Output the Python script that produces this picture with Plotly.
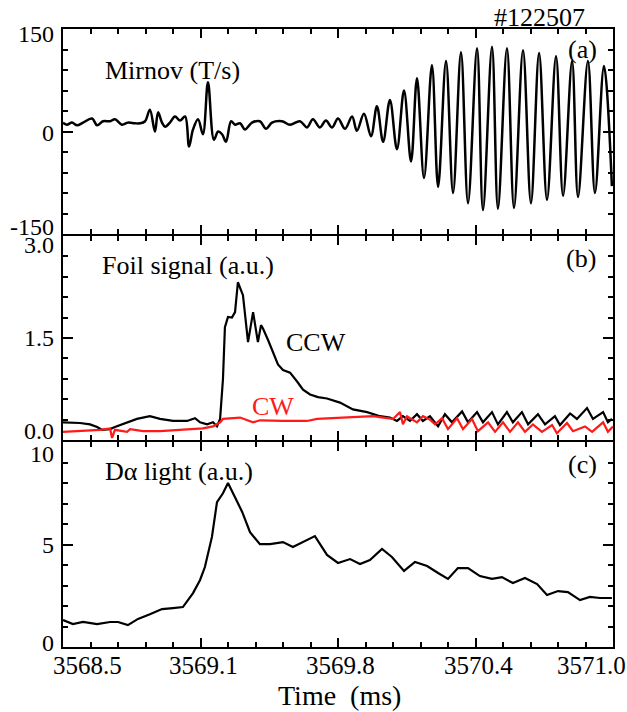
import plotly.graph_objects as go

T0 = 3568.5  # ms, left edge of the time axis

# ---------------- data (time offsets in ms from T0) ----------------
# (a) Mirnov signal (T/s), read at its turning points
mirnov_dt = [0.000, 0.018, 0.041, 0.064, 0.091, 0.132, 0.155, 0.182, 0.214, 0.236,
             0.268, 0.295, 0.327, 0.350, 0.373, 0.395, 0.418, 0.432, 0.450, 0.464,
             0.486, 0.509, 0.532, 0.555, 0.573, 0.591, 0.614, 0.636, 0.659, 0.686,
             0.705, 0.723, 0.741, 0.764, 0.782, 0.805, 0.827, 0.859, 0.895, 0.923,
             0.950, 0.995, 1.032, 1.077, 1.109, 1.136, 1.168, 1.195, 1.223, 1.250,
             1.282, 1.314, 1.336, 1.368, 1.400, 1.427, 1.455, 1.486, 1.518, 1.550,
             1.582, 1.609, 1.641, 1.677, 1.705, 1.741, 1.773, 1.809, 1.841, 1.882,
             1.909, 1.950, 1.977, 2.018, 2.050, 2.091, 2.127, 2.164, 2.200, 2.241,
             2.273, 2.314, 2.341, 2.386, 2.418, 2.459, 2.495]
mirnov_val = [13, 10, 13, 9, 13, 19, 9, 15, 15, 18,
              10, 13, 12, 12, 15, 32, 0, 28, 13, 7,
              13, 22, 16, 22, -22, 3, 18, -4, 72, -12,
              0, -4, -15, 15, 10, 12, 3, 13, 15, 4,
              13, 15, 10, 15, 6, 18, 6, 16, 6, 19,
              4, 22, 1, 26, -7, 37, -15, 46, -26, 60,
              -44, 78, -68, 97, -81, 103, -90, 116, -105, 122,
              -115, 124, -113, 122, -112, 119, -105, 115, -100, 110,
              -94, 103, -96, 103, -90, 96, -80]

# (b) Foil signal (a.u.), CCW (black)
ccw_dt = [0.000, 0.045, 0.077, 0.123, 0.155, 0.177, 0.214, 0.236, 0.259, 0.291,
          0.336, 0.395, 0.441, 0.500, 0.564, 0.600, 0.623, 0.655, 0.682, 0.700,
          0.714, 0.727, 0.736, 0.750, 0.768, 0.782, 0.795, 0.818, 0.841, 0.864,
          0.886, 0.900, 0.909, 0.932, 0.955, 0.977, 1.000, 1.032, 1.064, 1.091,
          1.123, 1.159, 1.200, 1.259, 1.318, 1.382, 1.441, 1.486, 1.518, 1.545,
          1.577, 1.609, 1.636, 1.668, 1.705, 1.736, 1.768, 1.814, 1.841, 1.882,
          1.909, 1.950, 1.977, 2.018, 2.045, 2.086, 2.114, 2.159, 2.191, 2.236,
          2.259, 2.305, 2.336, 2.382, 2.409, 2.455, 2.477, 2.495]
ccw_val = [0.26, 0.26, 0.25, 0.23, 0.19, 0.15, 0.16, 0.19, 0.22, 0.26,
           0.31, 0.35, 0.31, 0.28, 0.28, 0.32, 0.26, 0.23, 0.26, 0.20,
           0.31, 0.89, 1.66, 1.81, 1.80, 1.88, 2.32, 2.13, 1.44, 1.88,
           1.44, 1.69, 1.64, 1.47, 1.28, 1.11, 1.03, 0.99, 0.86, 0.74,
           0.67, 0.63, 0.61, 0.55, 0.45, 0.41, 0.35, 0.33, 0.28, 0.35,
           0.28, 0.38, 0.28, 0.35, 0.20, 0.38, 0.26, 0.42, 0.26, 0.41,
           0.26, 0.41, 0.23, 0.41, 0.26, 0.41, 0.23, 0.38, 0.23, 0.35,
           0.22, 0.39, 0.31, 0.47, 0.31, 0.41, 0.26, 0.31]

# (b) Foil signal (a.u.), CW (red)
cw_dt = [0.000, 0.077, 0.168, 0.214, 0.223, 0.236, 0.291, 0.305, 0.364, 0.441,
         0.518, 0.591, 0.636, 0.682, 0.714, 0.727, 0.773, 0.805, 0.864, 0.895,
         1.000, 1.109, 1.155, 1.259, 1.409, 1.455, 1.500, 1.532, 1.545, 1.564,
         1.609, 1.636, 1.668, 1.691, 1.723, 1.750, 1.791, 1.818, 1.859, 1.886,
         1.932, 1.964, 2.000, 2.032, 2.068, 2.100, 2.136, 2.177, 2.223, 2.245,
         2.291, 2.318, 2.373, 2.405, 2.455, 2.477, 2.500]
cw_val = [0.12, 0.13, 0.15, 0.17, 0.03, 0.15, 0.12, 0.16, 0.13, 0.13,
          0.15, 0.16, 0.17, 0.20, 0.26, 0.31, 0.32, 0.33, 0.26, 0.29,
          0.28, 0.28, 0.31, 0.33, 0.35, 0.33, 0.31, 0.41, 0.23, 0.35,
          0.26, 0.35, 0.30, 0.23, 0.32, 0.16, 0.32, 0.16, 0.31, 0.13,
          0.26, 0.12, 0.26, 0.12, 0.26, 0.12, 0.23, 0.12, 0.22, 0.10,
          0.25, 0.13, 0.20, 0.12, 0.26, 0.12, 0.20]

# (c) D-alpha light (a.u.)
da_dt = [0.000, 0.045, 0.091, 0.155, 0.214, 0.250, 0.295, 0.341, 0.395, 0.450,
         0.500, 0.545, 0.591, 0.623, 0.645, 0.677, 0.700, 0.727, 0.750, 0.773,
         0.814, 0.850, 0.895, 0.941, 1.000, 1.045, 1.091, 1.145, 1.200, 1.250,
         1.305, 1.350, 1.395, 1.450, 1.495, 1.550, 1.600, 1.655, 1.705, 1.750,
         1.795, 1.841, 1.895, 1.950, 1.995, 2.045, 2.100, 2.155, 2.200, 2.250,
         2.295, 2.350, 2.395, 2.441, 2.495]
da_val = [1.32, 1.12, 1.22, 1.12, 1.22, 1.22, 1.07, 1.37, 1.60, 1.85,
          1.90, 1.95, 2.63, 3.27, 3.90, 5.37, 7.07, 7.50, 8.00, 7.50,
          6.60, 5.60, 5.02, 5.02, 5.12, 4.88, 5.12, 5.41, 4.49, 4.10,
          4.29, 4.05, 4.24, 4.78, 4.39, 3.71, 4.15, 3.95, 3.61, 3.32,
          3.85, 3.85, 3.46, 3.32, 3.41, 3.12, 3.37, 3.07, 2.54, 2.73,
          2.68, 2.29, 2.44, 2.39, 2.39]

# axis ticks
x_range = [3568.5, 3571.0]
x_tick_vals = [3568.5, 3569.125, 3569.75, 3570.375, 3571.0]
x_tick_text = ["3568.5", "3569.1", "3569.8", "3570.4", "3571.0"]
x_minor_step = 0.125

ya_range, ya_ticks, ya_text, ya_minor = [-150, 150], [150, 0, -150], ["150", "0", "-150"], 30
yb_range, yb_ticks, yb_text, yb_minor = [0, 3], [3.0, 1.5, 0.0], ["3.0", "1.5", "0.0"], 0.3
yc_range, yc_ticks, yc_text, yc_minor = [0, 10], [10, 5, 0], ["10", "5", "0"], 1

# ---------------- styling ----------------
FONT = "Liberation Serif, Times New Roman, serif"
TICK_FS = 24
LABEL_FS = 26
PLOT_H = 712 - 29 - 65
GAP = 1.0 / PLOT_H          # half of the 2px gap so shared borders coincide
x_label_shift = [24, 3, 2, 3, -22]
ya_label_shift = [-5, -1, 7]       # pixels, positive = up
yb_label_shift = [-9, 0, 9]
yc_label_shift = [-12, 0, 4]


def tx(dts):
    return [T0 + d for d in dts]


fig = go.Figure()
fig.add_trace(go.Scatter(x=tx(mirnov_dt), y=mirnov_val, mode="lines",
                         line=dict(color="black", width=2.5, shape="spline", smoothing=1.0),
                         xaxis="x", yaxis="y", showlegend=False))
fig.add_trace(go.Scatter(x=tx(ccw_dt), y=ccw_val, mode="lines",
                         line=dict(color="black", width=2.2),
                         xaxis="x2", yaxis="y2", showlegend=False))
fig.add_trace(go.Scatter(x=tx(cw_dt), y=cw_val, mode="lines",
                         line=dict(color="#ff1a1a", width=2.2),
                         xaxis="x2", yaxis="y2", showlegend=False))
fig.add_trace(go.Scatter(x=tx(da_dt), y=da_val, mode="lines",
                         line=dict(color="black", width=2.2),
                         xaxis="x3", yaxis="y3", showlegend=False))


def xax(anchor):
    return dict(range=x_range, tickmode="array", tickvals=x_tick_vals, showticklabels=False,
                ticks="inside", ticklen=9, tickwidth=2, tickcolor="black",
                showline=True, linewidth=2, linecolor="black", mirror="ticks",
                showgrid=False, zeroline=False, anchor=anchor, domain=[0, 1],
                minor=dict(ticks="inside", ticklen=5, tickwidth=1.5, tickcolor="black",
                           tickmode="linear", tick0=x_range[0], dtick=x_minor_step,
                           showgrid=False))


def yax(rng, ticks, minor, dom, anchor):
    return dict(range=rng, tickmode="array", tickvals=ticks, showticklabels=False,
                ticks="inside", ticklen=10, tickwidth=2, tickcolor="black",
                showline=True, linewidth=2, linecolor="black", mirror="ticks",
                showgrid=False, zeroline=False, anchor=anchor, domain=dom,
                minor=dict(ticks="inside", ticklen=5, tickwidth=1.5, tickcolor="black",
                           tickmode="linear", tick0=rng[0], dtick=minor, showgrid=False))


fig.update_layout(
    width=627, height=712,
    margin=dict(l=63, r=14, t=29, b=65),
    paper_bgcolor="white", plot_bgcolor="white",
    font=dict(family=FONT, size=TICK_FS, color="black"),
    xaxis=xax("y"), xaxis2=xax("y2"), xaxis3=xax("y3"),
    yaxis=yax(ya_range, ya_ticks, ya_minor, [2 / 3 + GAP, 1], "x"),
    yaxis2=yax(yb_range, yb_ticks, yb_minor, [1 / 3 + GAP, 2 / 3 - GAP], "x2"),
    yaxis3=yax(yc_range, yc_ticks, yc_minor, [0, 1 / 3 - GAP], "x3"),
)

ann = []
# x tick labels (bottom panel only)
for v, t, s in zip(x_tick_vals, x_tick_text, x_label_shift):
    ann.append(dict(x=v, y=0, xref="x3", yref="y3 domain", text=t, showarrow=False,
                    xanchor="center", yanchor="top", yshift=-3, xshift=s,
                    font=dict(family=FONT, size=25)))
# y tick labels
for yref, vals, texts, shifts in [("y", ya_ticks, ya_text, ya_label_shift),
                                  ("y2", yb_ticks, yb_text, yb_label_shift),
                                  ("y3", yc_ticks, yc_text, yc_label_shift)]:
    for v, t, s in zip(vals, texts, shifts):
        ann.append(dict(x=0, y=v, xref="paper", yref=yref, text=t, showarrow=False,
                        xanchor="right", yanchor="middle", xshift=-7, yshift=s,
                        font=dict(family=FONT, size=TICK_FS)))

# panel texts
texts = [
    ("#122507", 0.953, 1.055, "x domain", "y domain", "right", "black"),
    ("(a)", 0.974, 0.898, "x domain", "y domain", "right", "black"),
    ("Mirnov (T/s)", 0.072, 0.80, "x domain", "y domain", "left", "black"),
    ("(b)", 0.972, 0.888, "x2 domain", "y2 domain", "right", "black"),
    ("Foil signal (a.u.)", 0.067, 0.854, "x2 domain", "y2 domain", "left", "black"),
    ("CCW", 0.402, 0.476, "x2 domain", "y2 domain", "left", "black"),
    ("CW", 0.340, 0.165, "x2 domain", "y2 domain", "left", "#ff1a1a"),
    ("(c)", 0.974, 0.888, "x3 domain", "y3 domain", "right", "black"),
    ("D\u03b1 light (a.u.)", 0.072, 0.854, "x3 domain", "y3 domain", "left", "black"),
]
for t, x, y, xr, yr, xa, c in texts:
    ann.append(dict(x=x, y=y, xref=xr, yref=yr, text=t, showarrow=False,
                    xanchor=xa, yanchor="middle",
                    font=dict(family=FONT, size=LABEL_FS, color=c)))

ann.append(dict(x=0.5036, y=-0.078, xref="paper", yref="paper", text="Time\u00a0 (ms)",
                showarrow=False, xanchor="center", yanchor="middle",
                font=dict(family=FONT, size=28)))

fig.update_layout(annotations=ann)
fig.write_html("out.html")
